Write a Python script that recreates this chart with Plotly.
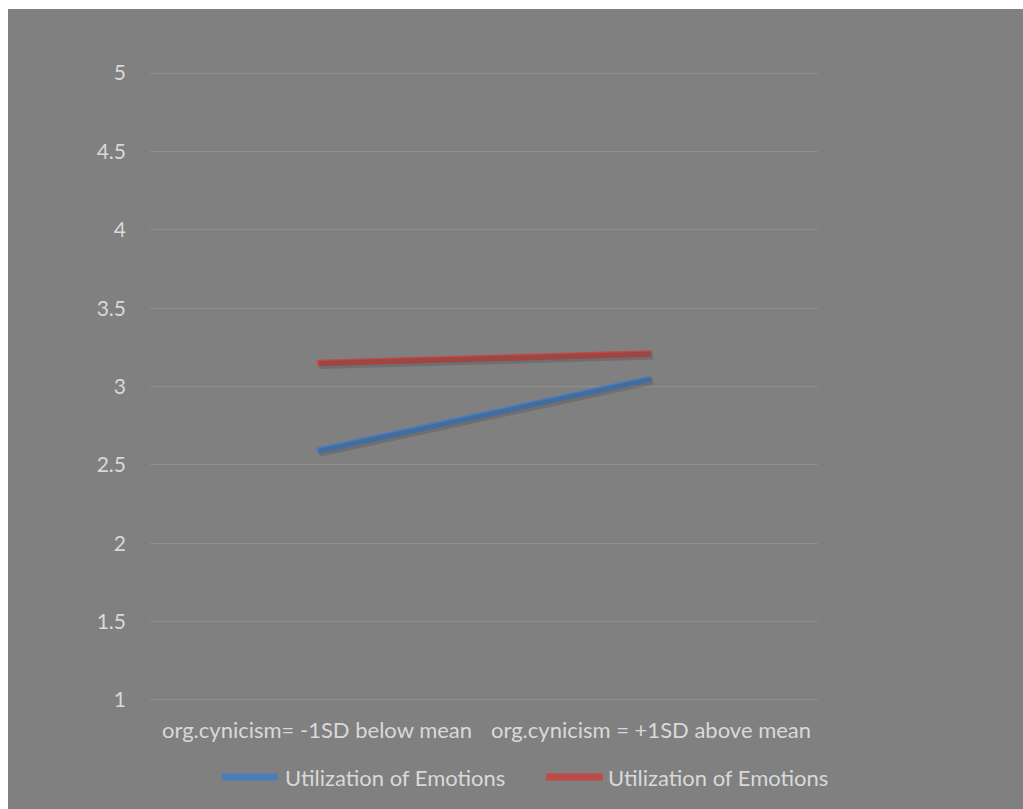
import plotly.graph_objects as go

categories = ["org.cynicism= -1SD below mean", "org.cynicism = +1SD above mean"]
series_names = ["Utilization of Emotions", "Utilization of Emotions"]
series_colors = ["#4a7ebb", "#be4b48"]
blue_values = [2.59, 3.05]
red_values = [3.15, 3.21]
y_ticks = [1, 1.5, 2, 2.5, 3, 3.5, 4, 4.5, 5]
y_tick_labels = ["1", "1.5", "2", "2.5", "3", "3.5", "4", "4.5", "5"]

W, H = 1023, 809
L, R, T, B = 150, 205, 70, 106
pw, ph = W - L - R, H - T - B
XR = [-0.5, 1.5]
YR = [0.98, 5.02]

def px_x(p):
    return (p - L) / pw

def px_y(p):
    return (H - B - p) / ph

# shadow offset (in pixels) converted to data units
sdx = 2 * (XR[1] - XR[0]) / pw
sdy = 2 * (YR[1] - YR[0]) / ph

fig = go.Figure()
for vals in (blue_values, red_values):
    fig.add_trace(go.Scatter(x=categories, y=vals, mode="lines", showlegend=False,
                             hoverinfo="skip", xaxis="x2", yaxis="y2",
                             line=dict(color="rgba(50,50,50,0.22)", width=8)))
for vals, name, col in zip((blue_values, red_values), series_names, series_colors):
    fig.add_trace(go.Scatter(x=categories, y=vals, mode="lines", name=name,
                             showlegend=False, line=dict(color=col, width=6.5)))

font = "Lato, Open Sans, sans-serif"
fs = 22
txt = "#d9d9d9"

shapes = [dict(type="rect", xref="paper", yref="paper",
               x0=px_x(8), x1=px_x(W + 5), y0=px_y(9), y1=px_y(H + 5),
               fillcolor="#808080", line=dict(width=0), layer="below")]
annotations = []
legend_items = [(222, 278, 283), (546, 603, 606)]
ly = px_y(777)
for (x0, x1, tx), name, col in zip(legend_items, series_names, series_colors):
    shapes.append(dict(type="line", xref="paper", yref="paper",
                       x0=px_x(x0), x1=px_x(x1), y0=ly, y1=ly,
                       line=dict(color=col, width=7)))
    annotations.append(dict(xref="paper", yref="paper", x=px_x(tx), y=ly,
                            xanchor="left", yanchor="middle", showarrow=False,
                            text=name, font=dict(family=font, size=fs, color=txt)))

fig.update_layout(
    width=W, height=H,
    margin=dict(l=L, r=R, t=T, b=B, pad=0),
    paper_bgcolor="white",
    plot_bgcolor="#808080",
    font=dict(family=font, size=fs, color=txt),
    showlegend=False,
    shapes=shapes,
    annotations=annotations,
    xaxis=dict(type="category", range=XR, showgrid=False, zeroline=False,
               showline=False, ticks="", ticklabelstandoff=12,
               tickfont=dict(size=fs, color=txt)),
    yaxis=dict(range=YR, tickvals=y_ticks, ticktext=y_tick_labels,
               showgrid=True, gridcolor="#8e8e8e", gridwidth=1, zeroline=False,
               showline=False, ticks="", ticklabelstandoff=23,
               tickfont=dict(size=21, color=txt)),
    xaxis2=dict(type="category", overlaying="x", range=[XR[0] - sdx, XR[1] - sdx],
                visible=False, categoryorder="array", categoryarray=categories),
    yaxis2=dict(overlaying="y", range=[YR[0] + sdy, YR[1] + sdy], visible=False),
)

fig.write_html("out.html")
